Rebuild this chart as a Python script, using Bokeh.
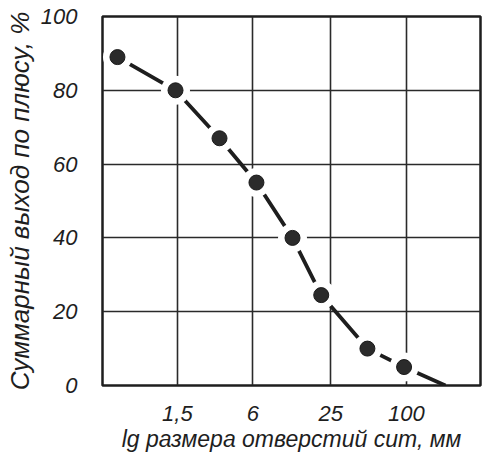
from bokeh.plotting import figure
from bokeh.models import FixedTicker, Range1d
from bokeh.embed import file_html
from bokeh.resources import INLINE

# Data
sieve_size_mm = [0.5, 1.45, 3.25, 6.4, 12.4, 21, 49, 96]
cum_yield_pct = [89, 80, 67, 55, 40, 24.5, 10, 5]
curve_end_size = [205]
curve_end_yield = [0]
x_ticks = [1.5, 6, 25, 100]
x_tick_labels = ["1,5", "6", "25", "100"]
y_ticks = [0, 20, 40, 60, 80, 100]

FONT = "Liberation Sans"
INK = "#1e1e1e"

p = figure(width=485, height=463, x_axis_type="log",
           x_range=Range1d(0.38, 390), y_range=Range1d(0, 100),
           output_backend="svg", toolbar_location=None,
           min_border_left=102, min_border_right=5,
           min_border_top=16, min_border_bottom=78)
p.background_fill_color = "white"
p.border_fill_color = "white"
p.outline_line_color = INK
p.outline_line_width = 2.5

p.xaxis.ticker = FixedTicker(ticks=x_ticks, minor_ticks=[])
p.xaxis.major_label_overrides = {t: l for t, l in zip(x_ticks, x_tick_labels)}
p.yaxis.ticker = FixedTicker(ticks=y_ticks, minor_ticks=[])

for ax in (p.xaxis[0], p.yaxis[0]):
    ax.axis_line_color = None
    ax.major_tick_line_color = None
    ax.minor_tick_line_color = None
    ax.major_label_text_font = FONT
    ax.major_label_text_font_style = "italic"
    ax.major_label_text_font_size = "22px"
    ax.major_label_text_color = INK
    ax.axis_label_text_font = FONT
    ax.axis_label_text_font_style = "italic"
    ax.axis_label_text_color = INK

p.xaxis.axis_label = "lg размера отверстий сит, мм"
p.yaxis.axis_label = "Суммарный выход по плюсу, %"
p.xaxis.axis_label_text_font_size = "23px"
p.yaxis.axis_label_text_font_size = "26px"
p.xaxis.major_label_standoff = 14
p.yaxis.major_label_standoff = 19
p.xaxis.axis_label_standoff = 2
p.yaxis.axis_label_standoff = 3

for g in (p.xgrid[0], p.ygrid[0]):
    g.grid_line_color = "#2a2a2a"
    g.grid_line_width = 1.6

xs = sieve_size_mm + curve_end_size
ys = cum_yield_pct + curve_end_yield
p.line(xs, ys, line_color=INK, line_width=3.8)
p.scatter(sieve_size_mm, cum_yield_pct, size=29, fill_color="white", line_color=None)
p.scatter(sieve_size_mm, cum_yield_pct, size=15, fill_color="#2b2b2b", line_color="#1a1a1a", line_width=1)

open("out.html", "w").write(file_html(p, INLINE))
